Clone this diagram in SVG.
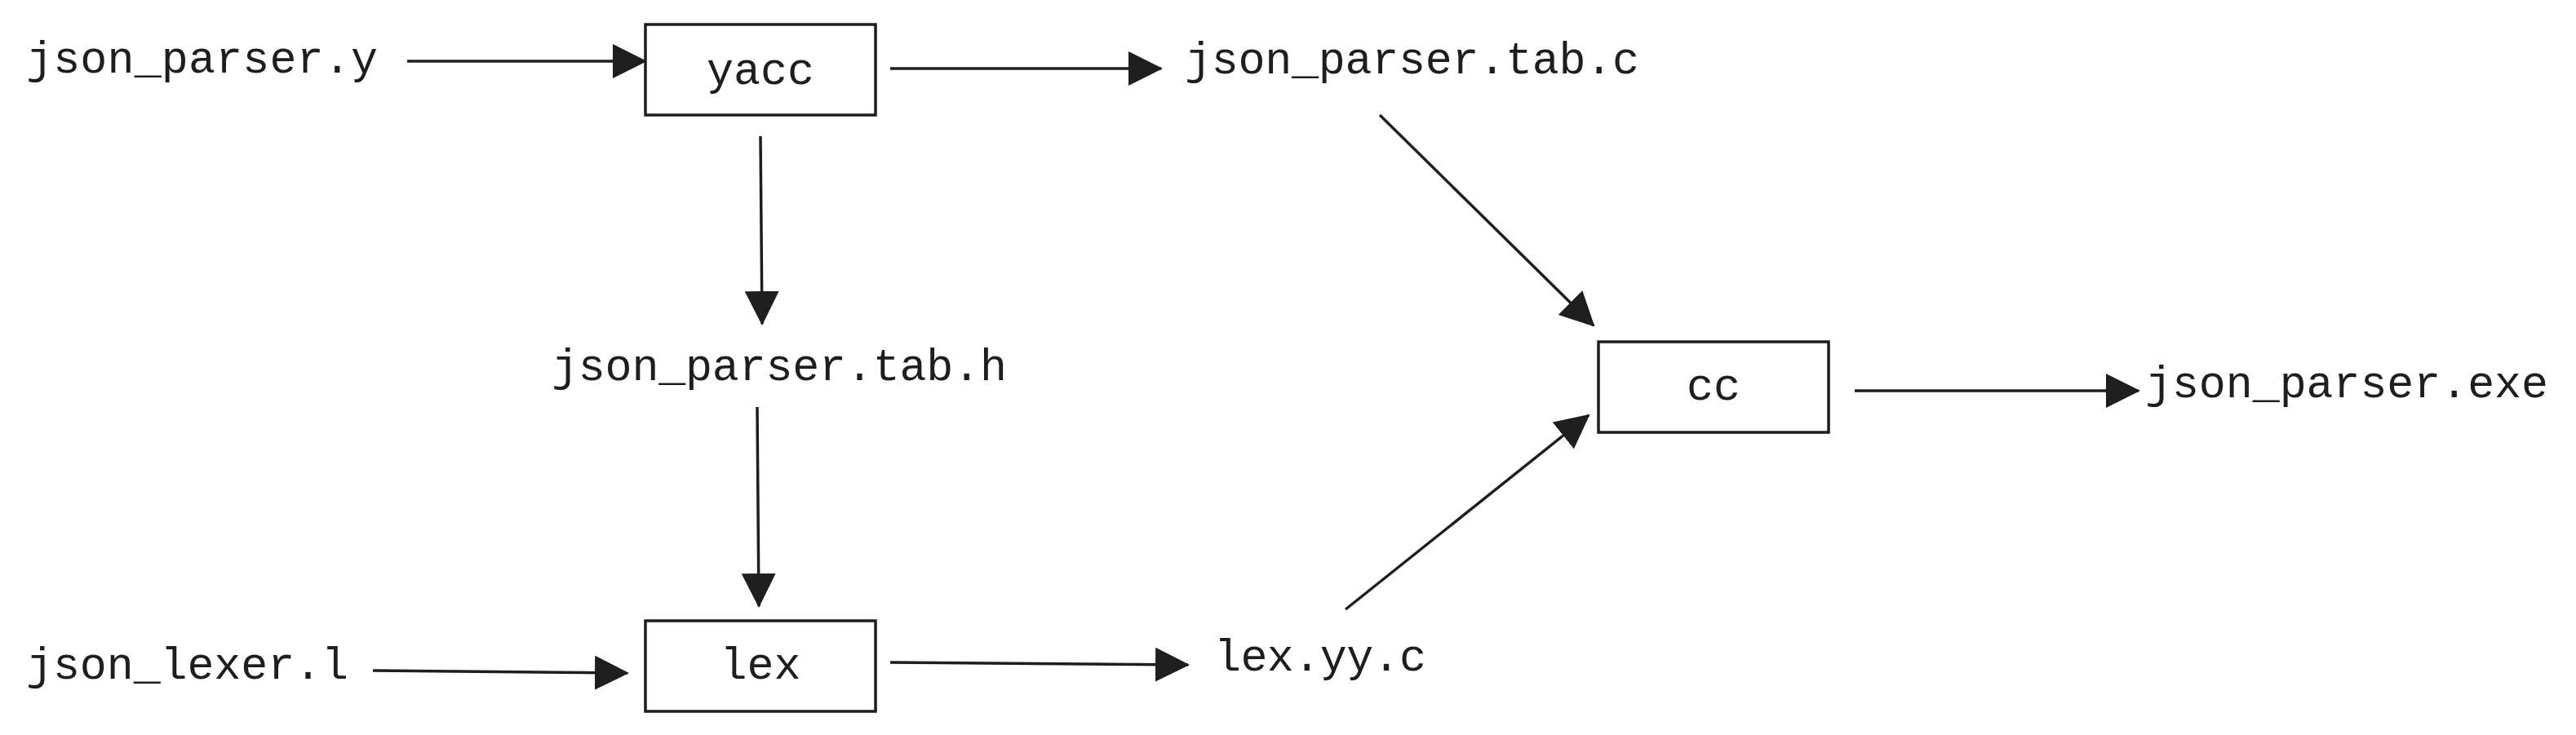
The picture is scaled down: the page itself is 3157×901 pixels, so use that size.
<svg xmlns="http://www.w3.org/2000/svg" width="3157" height="901" viewBox="0 0 3157 901">
<style>
.t{font-family:"Liberation Mono","DejaVu Sans Mono",monospace;font-size:55px;fill:#1e1e1e}
.box{fill:#fff;stroke:#1e1e1e;stroke-width:3.5}
.c{stroke:#1e1e1e;stroke-width:3.5;fill:none;marker-end:url(#ah)}
</style>
<defs>
<marker id="ah" markerUnits="userSpaceOnUse" markerWidth="42" markerHeight="42" refX="40" refY="21" orient="auto" viewBox="0 0 42 42">
<path d="M0,0 L42,21 L0,42 z" fill="#1e1e1e"/>
</marker>
</defs>
<rect width="3157" height="901" fill="#fff"/>
<g id="connectors">
<line class="c" x1="499" y1="75" x2="791" y2="75"/>
<line class="c" x1="1091" y1="84" x2="1423" y2="84"/>
<line class="c" x1="932" y1="167" x2="934" y2="397"/>
<line class="c" x1="928" y1="499" x2="930" y2="743"/>
<line class="c" x1="457" y1="822" x2="769" y2="825"/>
<line class="c" x1="1091" y1="812" x2="1456" y2="815"/>
<line class="c" x1="1649" y1="747" x2="1947" y2="509"/>
<line class="c" x1="1691" y1="141" x2="1953" y2="399"/>
<line class="c" x1="2273" y1="479" x2="2621" y2="479"/>
</g>
<g id="json_parser_y"><text class="t" x="32" y="89" textLength="431">json_parser.y</text></g>
<g id="yacc"><rect class="box" x="791" y="30" width="282" height="111"/><text class="t" x="932" y="103" text-anchor="middle">yacc</text></g>
<g id="json_parser_tab_c"><text class="t" x="1452" y="90" textLength="557">json_parser.tab.c</text></g>
<g id="json_parser_tab_h"><text class="t" x="676" y="466" textLength="558">json_parser.tab.h</text></g>
<g id="json_lexer_l"><text class="t" x="32" y="832" textLength="395">json_lexer.l</text></g>
<g id="lex"><rect class="box" x="791" y="761" width="282" height="111"/><text class="t" x="932" y="832" text-anchor="middle">lex</text></g>
<g id="lex_yy_c"><text class="t" x="1488" y="822" textLength="260">lex.yy.c</text></g>
<g id="cc"><rect class="box" x="1959" y="419" width="282" height="111"/><text class="t" x="2100" y="490" text-anchor="middle">cc</text></g>
<g id="json_parser_exe"><text class="t" x="2629" y="487" textLength="494">json_parser.exe</text></g>
</svg>
